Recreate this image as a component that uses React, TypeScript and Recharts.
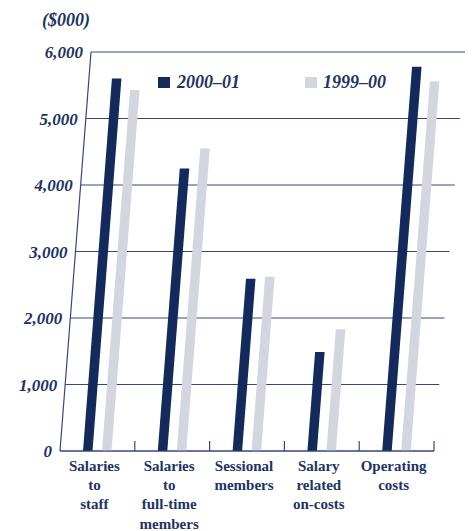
import { BarChart, Bar, XAxis, YAxis, CartesianGrid, Legend } from 'recharts';

const CATEGORIES = [
  'Salaries to staff',
  'Salaries to full-time members',
  'Sessional members',
  'Salary related on-costs',
  'Operating costs',
];
const LABEL_LINES = [
  ['Salaries', 'to', 'staff'],
  ['Salaries', 'to', 'full-time', 'members'],
  ['Sessional', 'members'],
  ['Salary', 'related', 'on-costs'],
  ['Operating', 'costs'],
];
const Y2000_01 = [5600, 4250, 2590, 1490, 5780];
const Y1999_00 = [5430, 4550, 2620, 1830, 5560];
const Y_TICKS = [0, 1000, 2000, 3000, 4000, 5000, 6000];

const W = 474;
const H = 531;
const LEFT = 60;
const RIGHT = 434;
const TOP = 52;
const BOTTOM = 451;
const SLOPE = 31 / (BOTTOM - TOP);

const NAVY = '#132a5c';
const LIGHT = '#d3d6df';
const INK = '#1c3363';
const FONT = "'Liberation Serif', 'Times New Roman', serif";

const data = CATEGORIES.map((name, i) => ({
  name,
  y2000: Y2000_01[i],
  y1999: Y1999_00[i],
}));

// bars lean right like the tilted frame
function SlantBar(props: any) {
  const { x, y, width, height, fill } = props;
  if (!height) return null;
  const dx = height * SLOPE;
  const pts = `${x},${y + height} ${x + width},${y + height} ${x + width + dx},${y} ${x + dx},${y}`;
  return <polygon points={pts} fill={fill} />;
}

function YTick({ y, payload }: any) {
  const shift = (BOTTOM - y) * SLOPE;
  return (
    <text
      x={LEFT - 8 + shift}
      y={y}
      dy={6}
      textAnchor="end"
      fill={INK}
      style={{ fontFamily: FONT }}
      fontSize={17}
      fontWeight="bold"
      fontStyle="italic"
    >
      {payload.value.toLocaleString('en-US')}
    </text>
  );
}

function XTick({ x, y, index }: any) {
  const lines = LABEL_LINES[index] || [];
  return (
    <text x={x - 3} y={y} textAnchor="middle" fill={INK} style={{ fontFamily: FONT }} fontSize={15} fontWeight="bold">
      {lines.map((l, i) => (
        <tspan key={i} x={x - 3} dy={i === 0 ? 12 : 19.2}>
          {l}
        </tspan>
      ))}
    </text>
  );
}

function GridH(props: any) {
  const { y1 } = props;
  const s = (BOTTOM - y1) * SLOPE;
  return (
    <g key={`h-${y1}`}>
      <line x1={LEFT + s} x2={RIGHT + s} y1={y1} y2={y1} stroke="#34497a" strokeWidth={1.2} />
      {Math.abs(y1 - TOP) < 1 && (
        <line x1={LEFT} y1={BOTTOM} x2={LEFT + s} y2={TOP} stroke="#34497a" strokeWidth={1.2} />
      )}
    </g>
  );
}

function GridV(props: any) {
  const { x1 } = props;
  return <line key={`v-${x1}`} x1={x1} x2={x1} y1={BOTTOM - 10} y2={BOTTOM} stroke="#34497a" strokeWidth={1.2} />;
}

const boundaries = CATEGORIES.map((_, i) => LEFT + ((i + 1) * (RIGHT - LEFT)) / CATEGORIES.length);

function LegendBox() {
  const t = { fontFamily: FONT };
  return (
    <svg width={W} height={100} style={{ display: 'block' }}>
      <text x={42} y={26} fill={INK} style={t} fontSize={18} fontWeight="bold" fontStyle="italic">
        ($000)
      </text>
      <rect x={158} y={77} width={12} height={11} fill={NAVY} />
      <text x={177} y={88} fill={INK} style={t} fontSize={18} fontWeight="bold" fontStyle="italic">
        2000–01
      </text>
      <rect x={305} y={77} width={12} height={11} fill={LIGHT} />
      <text x={323} y={88} fill={INK} style={t} fontSize={18} fontWeight="bold" fontStyle="italic">
        1999–00
      </text>
    </svg>
  );
}

export default function App() {
  return (
    <div style={{ position: 'absolute', left: 0, top: 0, width: W, height: H, background: '#fff' }}>
      <BarChart
        width={W}
        height={H}
        data={data}
        margin={{ top: TOP, right: W - RIGHT, left: 0, bottom: 0 }}
        barSize={9.5}
        barGap={9.5}
      >
        <CartesianGrid
          horizontal={GridH}
          vertical={GridV}
          verticalPoints={boundaries}
        />
        <XAxis
          dataKey="name"
          height={H - BOTTOM}
          tick={<XTick />}
          tickLine={false}
          axisLine={{ stroke: '#34497a', strokeWidth: 1.2 }}
          interval={0}
        />
        <YAxis
          width={LEFT}
          domain={[0, 6000]}
          ticks={Y_TICKS}
          tick={<YTick />}
          tickLine={false}
          axisLine={false}
        />
        <Legend
          verticalAlign="middle"
          layout="horizontal"
          wrapperStyle={{ top: 0, left: 0, width: W, height: 100 }}
          content={() => <LegendBox />}
        />
        <Bar dataKey="y2000" name="2000–01" fill={NAVY} shape={<SlantBar />} isAnimationActive={false} />
        <Bar dataKey="y1999" name="1999–00" fill={LIGHT} shape={<SlantBar />} isAnimationActive={false} />
      </BarChart>
    </div>
  );
}
